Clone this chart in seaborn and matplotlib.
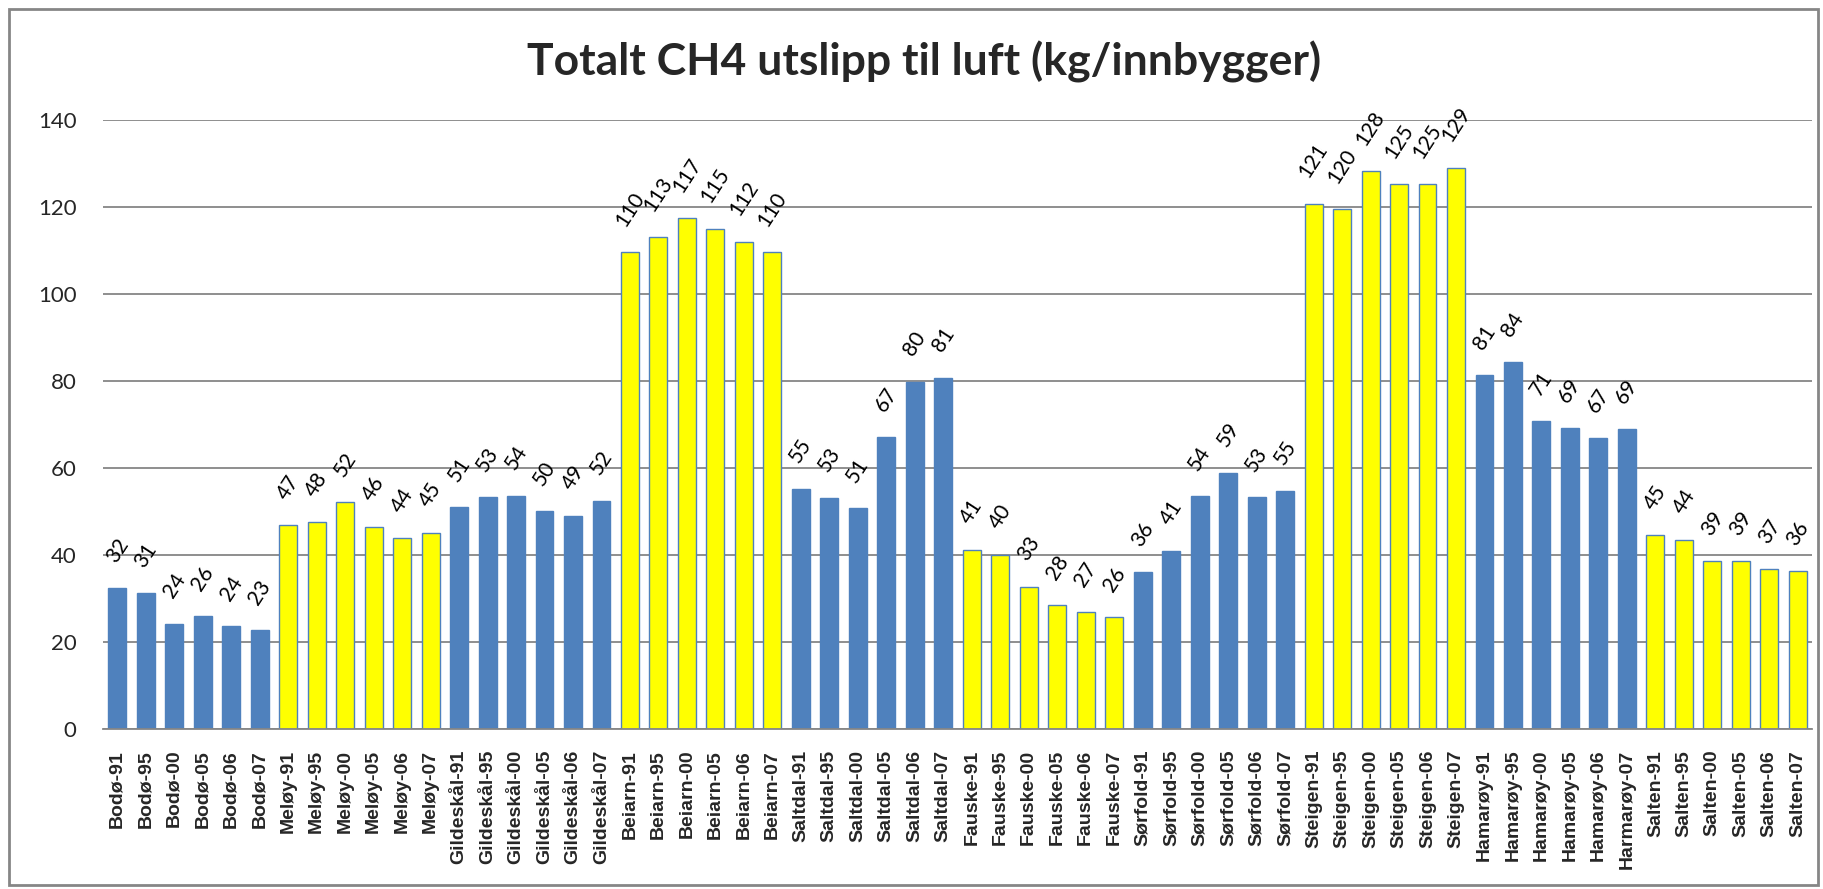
import matplotlib
matplotlib.use('Agg')
import matplotlib.pyplot as plt
import numpy as np
import pandas as pd
import seaborn as sns

# Kommuner og år (10 kommuner x 6 år)
kommuner = ['Bodø', 'Meløy', 'Gildeskål', 'Beiarn', 'Saltdal',
            'Fauske', 'Sørfold', 'Steigen', 'Hamarøy', 'Salten']
aar = ['91', '95', '00', '05', '06', '07']

# Kategorinavn slik de står i figuren (med "Harmarøy-07" som i originalen)
etiketter = [f'{k}-{a}' for k in kommuner for a in aar]
etiketter[etiketter.index('Hamarøy-07')] = 'Harmarøy-07'

# CH4-utslipp per innbygger, lest av figuren
bodo = [32.4, 31.2, 24.2, 25.9, 23.6, 22.7]
meloy = [46.8, 47.6, 52.1, 46.5, 43.9, 45.1]
gildeskal = [51.0, 53.3, 53.6, 50.1, 49.0, 52.5]
beiarn = [109.6, 113.0, 117.4, 115.0, 112.0, 109.6]
saltdal = [55.2, 53.2, 50.8, 67.1, 79.8, 80.8]
fauske = [41.2, 40.1, 32.7, 28.5, 26.8, 25.7]
sorfold = [36.0, 41.0, 53.5, 58.9, 53.3, 54.8]
steigen = [120.8, 119.5, 128.2, 125.3, 125.3, 129.0]
hamaroy = [81.3, 84.3, 70.7, 69.2, 66.8, 68.9]
salten = [44.6, 43.5, 38.6, 38.6, 36.7, 36.3]

verdier = bodo + meloy + gildeskal + beiarn + saltdal + fauske + sorfold + steigen + hamaroy + salten

# Annenhver kommune blå / gul
farge_kommune = ['blå', 'gul'] * 5
farger = [f for f in farge_kommune for _ in aar]

df = pd.DataFrame({'Kategori': etiketter, 'Utslipp': verdier, 'Farge': farger})

sns.set_theme(style='white')
plt.rcParams['font.family'] = ['Lato', 'DejaVu Sans']

fig = plt.figure(figsize=(18.23, 8.89), dpi=100)
ax = fig.add_axes([0.0565, 0.18, 0.994 - 0.0565, 0.865 - 0.18])

sns.barplot(data=df, x='Kategori', y='Utslipp', hue='Farge', order=etiketter,
            palette={'blå': '#4F81BD', 'gul': '#FFFF00'}, dodge=False, legend=False,
            width=0.63, edgecolor='#4F81BD', linewidth=1.0, saturation=1, ax=ax)

# Dataetiketter (verdien hentes fra hver søyle)
for patch in ax.patches:
    h = patch.get_height()
    if np.isnan(h) or h <= 0:
        continue
    ax.annotate(f'{h:.0f}', (patch.get_x() + patch.get_width() / 2, h),
                xytext=(0, 16), textcoords='offset points', ha='center', va='bottom',
                rotation=57, fontsize=15, color='black')

ax.set_ylim(0, 140)
ax.set_xlim(-0.5, len(etiketter) - 0.5)
ax.set_yticks(range(0, 141, 20))
ax.yaxis.grid(True, color='#868686', linewidth=1.3)
ax.set_axisbelow(True)
for s in ['left', 'right', 'top']:
    ax.spines[s].set_visible(False)
ax.spines['bottom'].set_color('#868686')
ax.spines['bottom'].set_linewidth(1.3)
ax.tick_params(axis='y', length=0, pad=19, labelsize=16)
ax.tick_params(axis='x', length=0, pad=15)
ax.set_xticks(range(len(etiketter)))
ax.set_xticklabels(etiketter, rotation=90, fontsize=14, fontweight='bold',
                   family=['Liberation Sans', 'DejaVu Sans'])
ax.set_xlabel('')
ax.set_ylabel('')

fig.text(0.507, 0.93, 'Totalt CH4 utslipp til luft (kg/innbygger)', ha='center', va='center',
         fontsize=32, fontweight='bold')

# Ramme rundt hele diagrammet
fig.patches.append(plt.Rectangle((0.005, 0.004), 0.992, 0.986, transform=fig.transFigure,
                                 fill=False, edgecolor='#868686', linewidth=2))

fig.savefig('out.png', dpi=100)
